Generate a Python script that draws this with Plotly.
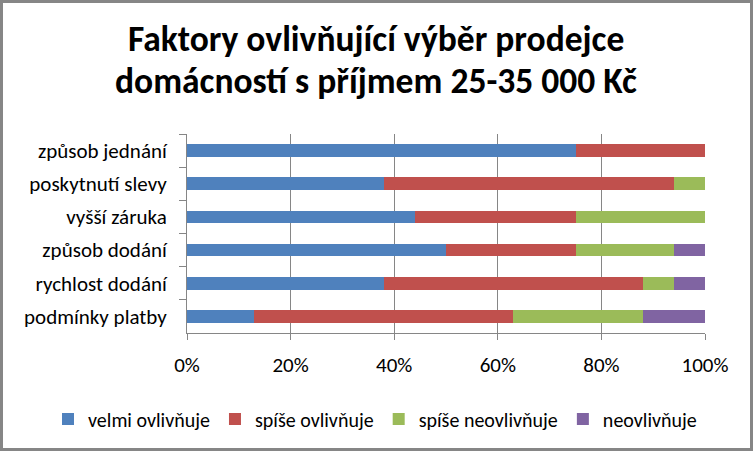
import plotly.graph_objects as go

categories = ["způsob jednání", "poskytnutí slevy", "vyšší záruka",
              "způsob dodání", "rychlost dodání", "podmínky platby"]
series_names = ["velmi ovlivňuje", "spíše ovlivňuje", "spíše neovlivňuje", "neovlivňuje"]
velmi = [75, 38, 44, 50, 38, 13]
spise = [25, 56, 31, 25, 50, 50]
spise_ne = [0, 6, 25, 19, 6, 25]
ne = [0, 0, 0, 6, 6, 12]
colors = ["#4F81BD", "#C0504D", "#9BBB59", "#8064A2"]
x_ticks = [0, 20, 40, 60, 80, 100]
x_tick_labels = ["0%", "20%", "40%", "60%", "80%", "100%"]
title_lines = ["Faktory ovlivňující výběr prodejce", "domácností s příjmem 25-35 000 Kč"]

W, H = 753, 451
L, R, T, B = 187, 48, 134, 118
FONT = "Carlito, Calibri, Lato, sans-serif"

fig = go.Figure()
for name, vals, col in zip(series_names, [velmi, spise, spise_ne, ne], colors):
    fig.add_trace(go.Bar(y=categories, x=vals, name=name, orientation="h",
                         marker=dict(color=col, line=dict(width=0))))

pw, ph = W - L - R, H - T - B
def px_x(p): return (p - L) / pw
def px_y(p): return (H - B - p) / ph

annotations = []
for line, yc in zip(title_lines, [38.5, 81]):
    annotations.append(dict(text="<b>" + line + "</b>", xref="paper", yref="paper",
                            x=px_x(376), y=px_y(yc), xanchor="center", yanchor="middle",
                            showarrow=False, font=dict(size=35.5, family=FONT, color="black")))

fig.update_layout(
    width=W, height=H, barmode="stack", bargap=0.62,
    margin=dict(l=L, r=R, t=T, b=B),
    paper_bgcolor="white", plot_bgcolor="white",
    font=dict(family=FONT, color="black"),
    annotations=annotations,
    xaxis=dict(range=[0, 100], tickvals=x_ticks, ticktext=x_tick_labels,
               showgrid=True, gridcolor="#868686", gridwidth=1,
               showline=True, linecolor="#868686", linewidth=1,
               ticks="outside", ticklen=6, tickcolor="#868686",
               tickfont=dict(size=21, family=FONT), ticklabelstandoff=7,
               zeroline=False, fixedrange=True),
    yaxis=dict(categoryorder="array", categoryarray=categories, autorange="reversed",
               showline=True, linecolor="#868686", linewidth=1,
               ticks="outside", ticklen=7, tickcolor="#868686", tickson="boundaries",
               tickfont=dict(size=21, family=FONT), ticklabelstandoff=15,
               showgrid=False, fixedrange=True),
    legend=dict(orientation="h", xref="paper", x=px_x(48), xanchor="left",
                yref="paper", y=px_y(419), yanchor="middle",
                font=dict(size=20, family=FONT), traceorder="normal",
                itemwidth=30, bgcolor="rgba(0,0,0,0)"),
    showlegend=True,
    shapes=[dict(type="rect", xref="paper", yref="paper",
                 x0=px_x(1.5), x1=px_x(W - 1.5), y0=px_y(1.5), y1=px_y(H - 1.5),
                 line=dict(color="#868686", width=3), fillcolor="rgba(0,0,0,0)",
                 layer="above")],
)
fig.write_html("out.html")
